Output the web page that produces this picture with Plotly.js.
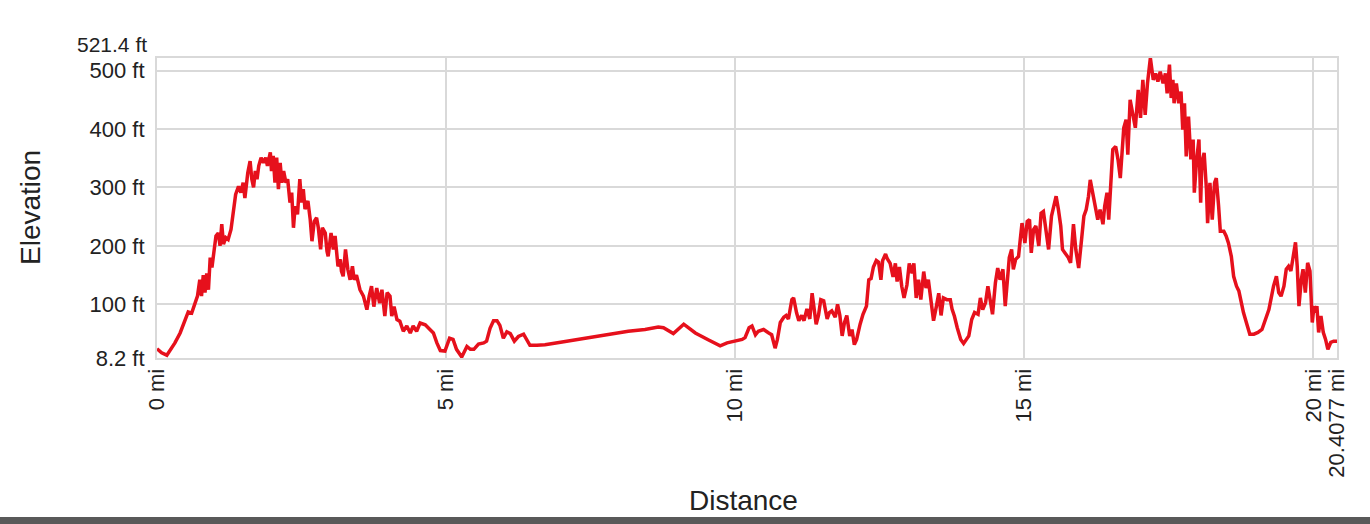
<!DOCTYPE html>
<html>
<head>
<meta charset="utf-8">
<script src="https://cdn.plot.ly/plotly-3.0.1.min.js"></script>
<style>
html,body{margin:0;padding:0;background:#fff;overflow:hidden;}
#chart{position:absolute;left:0;top:0;width:1370px;height:524px;}
#bar{position:absolute;left:0;top:517px;width:1370px;height:7px;background:#595959;}
</style>
</head>
<body>
<div id="chart"></div>
<div id="bar"></div>
<script>
// Distance along trail (miles)
const distanceMi = [
0.00,0.08,0.17,0.22,0.31,0.40,0.48,0.54,0.60,0.66,0.70,0.74,0.77,0.80,0.83,0.86,0.89,0.92,0.95,0.99,
1.02,1.06,1.09,1.12,1.15,1.19,1.23,1.28,1.32,1.36,1.41,1.45,1.49,1.52,1.57,1.61,1.64,1.67,1.70,1.73,
1.76,1.80,1.84,1.88,1.91,1.96,1.98,2.01,2.04,2.07,2.10,2.13,2.16,2.19,2.23,2.26,2.30,2.33,2.36,2.39,
2.43,2.47,2.50,2.53,2.56,2.61,2.65,2.68,2.72,2.76,2.79,2.83,2.86,2.91,2.94,2.96,3.01,3.05,3.08,3.13,
3.17,3.19,3.22,3.26,3.30,3.34,3.38,3.41,3.45,3.51,3.57,3.63,3.67,3.71,3.75,3.80,3.85,3.89,3.94,3.98,
4.03,4.06,4.10,4.15,4.20,4.26,4.32,4.38,4.43,4.49,4.55,4.64,4.72,4.78,4.84,4.90,4.98,5.06,5.12,5.18,
5.27,5.36,5.42,5.48,5.56,5.65,5.70,5.76,5.82,5.88,5.93,5.99,6.05,6.11,6.18,6.25,6.34,6.40,6.45,6.57,
6.71,6.98,7.29,7.58,7.87,8.15,8.44,8.67,8.76,8.93,9.11,9.31,9.54,9.74,9.86,10.00,10.12,10.17,10.24,10.29,
10.35,10.40,10.49,10.58,10.63,10.69,10.73,10.78,10.84,10.88,10.92,10.98,11.01,11.06,11.10,11.15,11.19,11.24,11.29,11.33,
11.37,11.40,11.44,11.48,11.53,11.59,11.63,11.67,11.73,11.77,11.81,11.85,11.89,11.93,11.98,12.02,12.06,12.10,12.16,12.21,
12.27,12.31,12.35,12.39,12.44,12.48,12.52,12.55,12.60,12.63,12.68,12.73,12.77,12.80,12.84,12.88,12.92,12.97,13.01,13.06,
13.09,13.13,13.17,13.21,13.26,13.30,13.34,13.39,13.43,13.48,13.52,13.56,13.60,13.66,13.72,13.75,13.79,13.84,13.90,13.95,
14.04,14.09,14.14,14.20,14.24,14.28,14.33,14.37,14.41,14.45,14.50,14.54,14.58,14.63,14.67,14.70,14.74,14.78,14.81,14.85,
14.90,14.93,14.96,15.01,15.05,15.09,15.12,15.16,15.20,15.25,15.29,15.33,15.37,15.42,15.47,15.51,15.55,15.59,15.63,15.66,
15.71,15.76,15.80,15.82,15.85,15.89,15.94,15.99,16.03,16.07,16.11,16.14,16.18,16.23,16.27,16.31,16.36,16.39,16.43,16.46,
16.49,16.53,16.58,16.62,16.66,16.69,16.72,16.76,16.79,16.83,16.87,16.92,16.97,17.01,17.05,17.09,17.13,17.15,17.18,17.23,
17.27,17.31,17.35,17.40,17.44,17.47,17.51,17.54,17.57,17.59,17.63,17.67,17.71,17.74,17.77,17.80,17.84,17.88,17.92,17.94,
17.98,18.02,18.05,18.07,18.11,18.15,18.17,18.21,18.25,18.29,18.32,18.36,18.39,18.45,18.49,18.53,18.58,18.62,18.67,18.71,
18.75,18.79,18.84,18.90,18.97,19.04,19.11,19.17,19.23,19.27,19.31,19.36,19.40,19.44,19.49,19.53,19.57,19.61,19.65,19.69,
19.72,19.75,19.79,19.82,19.86,19.90,19.94,19.98,20.01,20.04,20.06,20.09,20.13,20.17,20.21,20.25,20.30,20.35,20.4077
];
// Elevation (feet)
const elevationFt = [
24,17,13,20,34,51,71,87,85,100,114,142,114,150,120,153,125,180,163,194,
217,222,200,237,203,214,211,228,260,288,302,291,308,282,325,345,314,300,328,314,
337,351,342,351,337,360,328,354,308,351,297,342,308,328,308,314,274,291,231,268,
254,314,274,297,263,277,245,208,242,248,231,194,231,222,191,182,222,194,217,165,
177,157,148,194,160,142,165,142,150,125,114,91,114,131,96,128,102,125,80,120,
114,80,96,74,71,54,63,51,63,54,68,65,57,51,34,21,20,42,40,23,
10,28,23,23,32,34,37,59,72,72,64,42,53,50,37,45,49,40,30,30,
31,35,40,44,50,54,57,61,60,50,66,51,39,29,34,37,40,43,60,63,
48,54,57,51,48,25,40,69,78,81,75,108,111,86,72,81,72,92,75,119,
94,66,81,108,106,75,86,89,78,100,81,46,69,81,46,57,31,40,66,83,
97,142,144,164,175,172,142,175,186,178,170,147,170,139,164,131,111,133,170,153,
170,111,142,108,156,128,142,108,72,97,119,81,111,108,108,92,80,60,40,33,
46,74,86,83,111,91,103,131,108,83,137,162,142,160,97,131,180,194,160,177,
182,211,239,205,242,245,188,228,234,200,256,259,228,194,251,268,285,262,234,194,
188,180,171,194,237,194,162,211,251,262,285,313,291,268,245,262,237,268,291,245,
296,365,370,348,316,370,402,416,356,450,427,402,467,419,484,424,478,501,521.4,484,
495,481,498,478,495,461,510,453,484,444,478,444,464,399,444,353,421,348,382,291,
348,382,274,342,359,296,239,308,245,308,316,268,225,225,217,205,182,148,131,123,
103,86,69,49,49,52,57,74,91,111,131,148,120,114,131,160,165,157,182,206,
165,97,142,160,120,171,157,69,97,86,97,52,80,52,40,23,35,37,37
];

const xTickVals = [0, 5, 10, 15, 20, 20.4077];
const xTickText = ['0 mi', '5 mi', '10 mi', '15 mi', '20 mi', '20.4077 mi'];
const yTickVals = [8.2, 100, 200, 300, 400, 500];
const yTickText = ['8.2 ft', '100 ft', '200 ft', '300 ft', '400 ft', '500 ft'];
const yMin = 8.2;
const yMax = 521.4;
const yMaxLabel = '521.4 ft';
const xMax = 20.4077;

const gridColor = '#d9d9d9';
const textColor = '#222222';
const fontFamily = '"Liberation Sans", Arial, sans-serif';

const trace = {
  type: 'scatter',
  mode: 'lines',
  x: distanceMi,
  y: elevationFt,
  line: {color: 'rgb(230,16,28)', width: 3.5},
  hoverinfo: 'skip'
};

const layout = {
  width: 1370,
  height: 524,
  margin: {l: 157, r: 33, t: 58, b: 166, pad: 0},
  paper_bgcolor: '#ffffff',
  plot_bgcolor: '#ffffff',
  showlegend: false,
  font: {family: fontFamily, color: textColor},
  xaxis: {
    range: [0, xMax],
    tickmode: 'array',
    tickvals: xTickVals,
    ticktext: xTickText,
    tickangle: -90,
    ticks: '',
    ticklabelstandoff: 0,
    tickfont: {size: 22, color: textColor, family: fontFamily},
    showgrid: true, gridcolor: gridColor, gridwidth: 2,
    showline: true, mirror: true, linecolor: gridColor, linewidth: 2,
    zeroline: false, fixedrange: true
  },
  yaxis: {
    range: [yMin, yMax],
    tickmode: 'array',
    tickvals: yTickVals,
    ticktext: yTickText,
    ticks: '',
    ticklabelstandoff: 6,
    tickfont: {size: 22, color: textColor, family: fontFamily},
    showgrid: true, gridcolor: gridColor, gridwidth: 2,
    showline: true, mirror: true, linecolor: gridColor, linewidth: 2,
    zeroline: false, fixedrange: true
  },
  annotations: [
    {xref: 'paper', yref: 'y', x: 0, y: yMax, text: yMaxLabel, showarrow: false,
     xanchor: 'right', yanchor: 'middle', xshift: -8, yshift: 14,
     font: {size: 21, color: textColor, family: fontFamily}},
    {xref: 'paper', yref: 'paper', x: (743 - 157) / 1180, y: (358 - 500) / 300, text: 'Distance',
     showarrow: false, xanchor: 'center', yanchor: 'middle',
     font: {size: 28, color: textColor, family: fontFamily}},
    {xref: 'paper', yref: 'paper', x: (30 - 157) / 1180, y: 0.5, text: 'Elevation',
     showarrow: false, xanchor: 'center', yanchor: 'middle', textangle: -90,
     font: {size: 28, color: textColor, family: fontFamily}}
  ]
};

Plotly.newPlot('chart', [trace], layout, {staticPlot: true, displayModeBar: false});
</script>
</body>
</html>
